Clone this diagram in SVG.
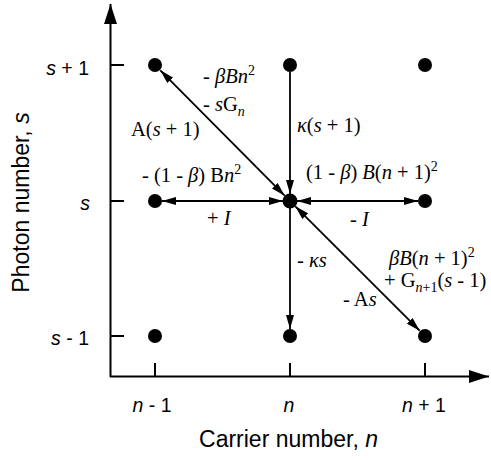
<svg xmlns="http://www.w3.org/2000/svg" width="491" height="460" viewBox="0 0 491 460">
<style>
.ax{stroke:#000;stroke-width:2;fill:none}
.ln{stroke:#000;stroke-width:1.8;fill:none}
.dot{fill:#000}
.sans{font-family:"Liberation Sans",Arial,sans-serif;fill:#000}
.serif{font-family:"Liberation Serif","Times New Roman",serif;font-size:20.5px;fill:#000}
.i{font-style:italic}
.sup{font-size:14px}
</style>
<defs>
<marker id="ah" viewBox="0 0 14 8" refX="14" refY="4" markerWidth="14" markerHeight="8" markerUnits="userSpaceOnUse" orient="auto-start-reverse">
<path d="M0,0 L14,4 L0,8 z" fill="#000"/>
</marker>
<marker id="axh" viewBox="0 0 20 13" refX="20" refY="6.5" markerWidth="20" markerHeight="13" markerUnits="userSpaceOnUse" orient="auto">
<path d="M0,0 L20,6.5 L0,13 z" fill="#000"/>
</marker>
</defs>
<g id="axes">
<path class="ax" d="M110.5,377 L110.5,4" marker-end="url(#axh)"/>
<path class="ax" d="M110,376.5 L489,376.5" marker-end="url(#axh)"/>
<path class="ax" d="M110,65 H124 M110,201 H124 M110,336 H124"/>
<path class="ax" d="M155,363 V377 M290,363 V377 M425,363 V377"/>
<text class="sans i" x="89" y="75" font-size="19.5" text-anchor="end">s<tspan font-style="normal"> + 1</tspan></text>
<text class="sans i" x="90" y="210" font-size="19.5" text-anchor="end">s</text>
<text class="sans i" x="89" y="345" font-size="19.5" text-anchor="end">s<tspan font-style="normal"> - 1</tspan></text>
<text class="sans i" x="152" y="412" font-size="19.5" text-anchor="middle">n<tspan font-style="normal"> - 1</tspan></text>
<text class="sans i" x="289" y="412" font-size="19.5" text-anchor="middle">n</text>
<text class="sans i" x="424" y="412" font-size="19.5" text-anchor="middle">n<tspan font-style="normal"> + 1</tspan></text>
<text class="sans" x="288.5" y="447" font-size="23" text-anchor="middle">Carrier number, <tspan class="i">n</tspan></text>
<text class="sans" transform="translate(29,202.5) rotate(-90)" font-size="23" text-anchor="middle">Photon number, <tspan class="i">s</tspan></text>
</g>
<g id="connectors">
<line class="ln" x1="290" y1="72" x2="290" y2="194" marker-end="url(#ah)"/>
<line class="ln" x1="290" y1="208" x2="290" y2="329" marker-end="url(#ah)"/>
<line class="ln" x1="162" y1="201" x2="283" y2="201" marker-start="url(#ah)" marker-end="url(#ah)"/>
<line class="ln" x1="297" y1="201" x2="418" y2="201" marker-start="url(#ah)" marker-end="url(#ah)"/>
<line class="ln" x1="160.3" y1="70.3" x2="284.7" y2="195.7" marker-start="url(#ah)" marker-end="url(#ah)"/>
<line class="ln" x1="295.3" y1="206.3" x2="419.7" y2="330.7" marker-start="url(#ah)" marker-end="url(#ah)"/>
</g>
<g id="n_m1_p1"><circle class="dot" cx="155" cy="65" r="7"/></g>
<g id="n_0_p1"><circle class="dot" cx="290" cy="65" r="7"/></g>
<g id="n_p1_p1"><circle class="dot" cx="425" cy="65" r="7"/></g>
<g id="n_m1_0"><circle class="dot" cx="155" cy="201" r="7"/></g>
<g id="n_0_0"><circle class="dot" cx="290" cy="201" r="7.5"/></g>
<g id="n_p1_0"><circle class="dot" cx="425" cy="201" r="7"/></g>
<g id="n_m1_m1"><circle class="dot" cx="155" cy="336" r="7"/></g>
<g id="n_0_m1"><circle class="dot" cx="290" cy="336" r="7"/></g>
<g id="n_p1_m1"><circle class="dot" cx="425" cy="336" r="7"/></g>
<g id="labels">
<text class="serif" x="203" y="83">- <tspan class="i">βBn</tspan><tspan class="sup" dy="-8">2</tspan></text>
<text class="serif" x="203" y="111">- <tspan class="i">s</tspan>G<tspan class="sup i" dy="5">n</tspan></text>
<text class="serif" x="131" y="136">A(<tspan class="i">s</tspan> + 1)</text>
<text class="serif" x="297" y="132"><tspan class="i">κ</tspan>(<tspan class="i">s</tspan> + 1)</text>
<text class="serif" x="142" y="182">- (1 - <tspan class="i">β</tspan>) B<tspan class="i">n</tspan><tspan class="sup" dy="-8">2</tspan></text>
<text class="serif" x="306" y="179">(1 - <tspan class="i">β</tspan>) <tspan class="i">B</tspan>(<tspan class="i">n</tspan> + 1)<tspan class="sup" dy="-8">2</tspan></text>
<text class="serif" x="207" y="225">+ <tspan class="i">I</tspan></text>
<text class="serif" x="350" y="226">- <tspan class="i">I</tspan></text>
<text class="serif" x="297" y="267">- <tspan class="i">κs</tspan></text>
<text class="serif" x="389" y="265"><tspan class="i">βB</tspan>(<tspan class="i">n</tspan> + 1)<tspan class="sup" dy="-8">2</tspan></text>
<text class="serif" x="384" y="287">+ G<tspan class="sup" dy="5"><tspan class="i">n</tspan>+1</tspan><tspan dy="-5">(</tspan><tspan class="i">s</tspan> - 1)</text>
<text class="serif" x="343" y="306">- A<tspan class="i">s</tspan></text>
</g>
</svg>
